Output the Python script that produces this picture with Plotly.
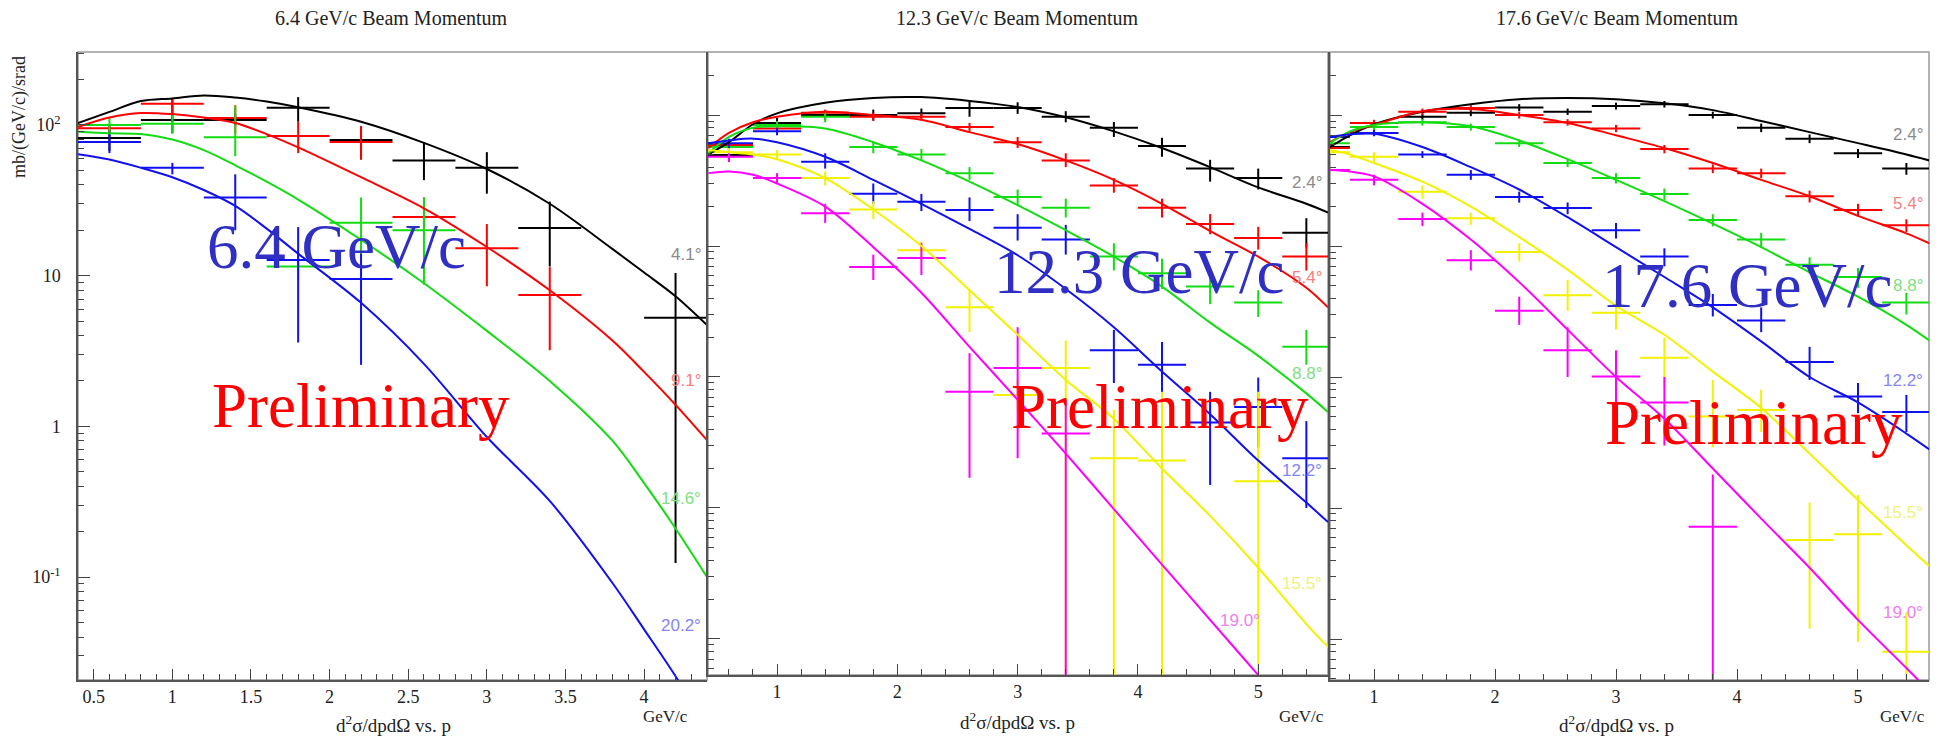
import plotly.graph_objects as go

W, H = 1948, 738
BIN_HALF = 0.2

# ---------------- Panel 1 : 6.4 GeV/c ----------------
P1_BLACK_X = [0.6, 1.0, 1.4, 1.8, 2.2, 2.6, 3.0, 3.4, 4.2]
P1_BLACK_Y = [82, 108, 108, 130, 79.5, 58, 52, 20.7, 5.25]
P1_BLACK_HI = [100, 147, 118, 153, 98, 76, 66, 31, 10.4]
P1_BLACK_LO = [67, 88, 99, 105, 59, 43, 35, 11.5, 0.124]

P1_RED_X = [0.6, 1.0, 1.4, 1.8, 2.2, 2.6, 3.0, 3.4]
P1_RED_Y = [95, 138, 111, 84.5, 77, 24.5, 15.2, 7.45]
P1_RED_HI = [100, 151, 135, 105, 98, 33, 22, 11.4]
P1_RED_LO = [90, 120, 88, 65, 59, 19, 8.5, 3.2]

P1_GREEN_X = [0.6, 1.0, 1.4, 1.8, 2.2, 2.6]
P1_GREEN_Y = [100, 102, 83, 11.5, 22.4, 20]
P1_GREEN_HI = [111, 116, 134, 14, 33, 33]
P1_GREEN_LO = [90, 88, 62, 9.3, 13.3, 8.7]

P1_BLUE_X = [0.6, 1.0, 1.4, 1.8, 2.2]
P1_BLUE_Y = [77, 52, 33, 12.7, 9.5]
P1_BLUE_HI = [90, 56, 47, 21, 14]
P1_BLUE_LO = [65, 47, 20, 3.6, 2.56]

P1_CURVE_X = [0.40, 0.6, 0.8, 1.0, 1.2, 1.4, 1.6, 1.8, 2.2, 2.6, 3.0, 3.4, 3.8, 4.0, 4.2, 4.4]
P1_CURVE_BLACK = [103, 122, 144, 150, 157, 152, 143, 131, 105, 76, 51, 30, 15, 10.5, 7.3, 4.7]
P1_CURVE_RED = [97, 112, 120, 118, 112, 103, 87, 71, 45, 28, 15.5, 8, 3.7, 2.3, 1.39, 0.81]
P1_CURVE_GREEN = [90, 88, 87, 80, 68, 54, 42, 32, 17.3, 8.9, 4.3, 2.0, 0.8, 0.42, 0.21, 0.1]
P1_CURVE_BLUE = [64, 59, 52, 45, 37, 29, 20.5, 14, 6.6, 2.6, 0.85, 0.32, 0.091, 0.045, 0.022, 0.010]

# ---------------- Panel 2 : 12.3 GeV/c ----------------
P2_BINS = [0.6, 1.0, 1.4, 1.8, 2.2, 2.6, 3.0, 3.4, 3.8, 4.2, 4.6, 5.0, 5.4]
P2_BLACK_Y = [49.5, 87, 100, 100, 103, 113, 113, 97, 80, 58, 39, 33, 12.6]
P2_BLACK_HI = [56, 95, 108, 110, 112, 130, 125, 107, 88.5, 67, 45.5, 39, 16.3]
P2_BLACK_LO = [44, 79, 92, 91, 95, 97, 102, 88, 68, 48, 31, 27, 9.7]

P2_RED_Y = [59, 79, 104, 97, 97, 81, 62, 45, 29, 19.6, 14.7, 11.5, 8.3]
P2_RED_HI = [64, 86, 110, 104, 103, 87, 68, 51, 33, 23, 17.5, 14, 10.5]
P2_RED_LO = [54, 73, 98, 90, 91, 75, 56, 40, 25.5, 16.5, 12.3, 9.4, 6.5]

P2_GREEN_Y = [57, 84, 97, 57, 50, 36, 23.7, 19.6, 8.3, 6.2, 4.9, 3.7, 1.7]
P2_GREEN_HI = [62, 90, 106, 63, 55, 40, 27, 23, 10.5, 8, 6.5, 4.6, 2.29]
P2_GREEN_LO = [52, 78, 88, 51, 45, 32, 20.5, 16.5, 6.5, 4.7, 3.6, 2.87, 1.24]

P2_BLUE_Y = [61, 75, 44, 25, 21.8, 18.8, 13.8, 11.2, 1.6, 1.24, 0.45, 0.59, 0.24]
P2_BLUE_HI = [66, 80, 51, 30, 25, 23.5, 17.5, 14.5, 2.29, 1.85, 0.77, 0.99, 0.46]
P2_BLUE_LO = [56, 70, 39, 21, 18.5, 15.5, 11, 8.6, 0.9, 0.63, 0.15, 0.29, 0.1]

P2_YELLOW_X = [0.6, 1.0, 1.4, 1.8, 2.2, 2.6, 3.0, 3.4, 3.8, 4.2, 5.0]
P2_YELLOW_Y = [52, 50, 33, 19, 9.3, 3.4, 0.73, 1.17, 0.24, 0.23, 0.16]
P2_YELLOW_HI = [56, 54, 37, 22, 10.8, 4.6, 0.95, 1.9, 0.56, 0.77, 0.77]
P2_YELLOW_LO = [48, 46, 29, 16, 7.8, 2.2, 0.55, 0.001, 0.001, 0.001, 0.001]

P2_MAGENTA_X = [0.6, 1.0, 1.4, 1.8, 2.2, 2.6, 3.0, 3.4]
P2_MAGENTA_Y = [48, 33, 17.8, 6.9, 8.1, 0.77, 1.17, 0.37]
P2_MAGENTA_HI = [52, 36, 21, 8.6, 10.5, 1.52, 2.4, 0.67]
P2_MAGENTA_LO = [44, 30, 15, 5.5, 6.0, 0.17, 0.24, 0.001]

P2_CURVE_X = [0.43, 0.6, 0.8, 1.0, 1.4, 1.8, 2.2, 2.6, 3.0, 3.4, 3.8, 4.2, 4.6, 5.0, 5.4, 5.58]
P2_CURVE_BLACK = [50, 62, 85, 103, 124, 135, 137, 128, 115, 96, 75, 56, 40, 28, 21, 18]
P2_CURVE_RED = [56, 73, 88, 97, 106, 100, 92, 74, 60, 45, 32, 21, 13, 8.3, 4.8, 3.4]
P2_CURVE_GREEN = [51, 68, 80, 82, 79, 62, 45, 31, 20.5, 13.2, 8.3, 4.9, 2.6, 1.45, 0.75, 0.54]
P2_CURVE_BLUE = [61, 64, 66, 62, 48, 32, 21, 13.5, 8.5, 4.7, 2.4, 1.1, 0.52, 0.23, 0.11, 0.078]
P2_CURVE_YELLOW = [54, 52, 50, 46, 33, 19, 10, 4.6, 2.1, 0.95, 0.48, 0.2, 0.087, 0.035, 0.013, 0.0087]
P2_CURVE_MAGENTA = [36, 37, 35, 30, 20, 9.8, 4.4, 1.7, 0.67, 0.26, 0.098, 0.037, 0.014, 0.0053, 0.002, 0.0012]

# ---------------- Panel 3 : 17.6 GeV/c ----------------
P3_BINS = [0.6, 1.0, 1.4, 1.8, 2.2, 2.6, 3.0, 3.4, 3.8, 4.2, 4.6, 5.0, 5.4]
P3_BLACK_Y = [57, 73, 97, 104, 114, 106, 117, 121, 100, 80, 66, 51, 39]
P3_BLACK_HI = [60, 77, 102, 110, 121, 112, 124, 128, 106, 86, 71, 55, 43]
P3_BLACK_LO = [54, 69, 92, 98, 107, 100, 110, 114, 94, 74, 61, 47, 35]

P3_RED_Y = [56, 87, 106, 113, 100, 88, 79, 55, 39, 36, 24, 18.8, 14.4]
P3_RED_HI = [59, 92, 112, 119, 106, 93, 84, 59, 42, 39, 26.5, 21, 16]
P3_RED_LO = [53, 82, 100, 107, 94, 83, 74, 51, 36, 33, 21.5, 16.8, 12.8]

P3_GREEN_Y = [61, 81, 88, 81, 61, 43, 33, 25, 15.8, 11.2, 7.2, 5.8, 3.7]
P3_GREEN_HI = [64, 86, 93, 86, 65, 46, 36, 27.5, 17.5, 12.6, 8.2, 6.8, 4.4]
P3_GREEN_LO = [58, 76, 83, 76, 57, 40, 30, 22.5, 14.1, 9.8, 6.2, 4.8, 3.0]

P3_BLUE_Y = [68, 73, 50, 35, 23.7, 19.5, 13.2, 8.3, 3.55, 2.7, 1.3, 0.71, 0.54]
P3_BLUE_HI = [72, 77, 53, 38, 26, 21.5, 15, 9.6, 4.3, 3.4, 1.7, 0.9, 0.73]
P3_BLUE_LO = [64, 69, 47, 32, 21.4, 17.5, 11.4, 7.0, 2.9, 2.2, 0.95, 0.53, 0.38]

P3_YELLOW_Y = [52, 48, 26, 16.3, 9.0, 4.2, 3.1, 1.4, 0.50, 0.56, 0.057, 0.063, 0.008]
P3_YELLOW_HI = [56, 52, 29, 18, 10.5, 5.5, 3.9, 2.0, 0.95, 0.8, 0.11, 0.126, 0.016]
P3_YELLOW_LO = [48, 44, 23, 14.5, 7.6, 3.2, 2.3, 0.85, 0.29, 0.38, 0.012, 0.0095, 0.001]

P3_MAGENTA_X = [0.6, 1.0, 1.4, 1.8, 2.2, 2.6, 3.0, 3.4, 3.8]
P3_MAGENTA_Y = [38, 32, 16.1, 7.8, 3.2, 1.6, 1.01, 0.64, 0.072]
P3_MAGENTA_HI = [41, 35, 18, 9.3, 4.1, 2.4, 1.6, 1.0, 0.18]
P3_MAGENTA_LO = [35, 29, 14.2, 6.5, 2.5, 1.0, 0.53, 0.30, 0.001]

P3_CURVE_X = [0.636, 0.8, 1.0, 1.4, 1.8, 2.2, 2.6, 3.0, 3.4, 3.8, 4.2, 4.6, 5.0, 5.4, 5.59]
P3_CURVE_BLACK = [57, 70, 85, 106, 121, 132, 135, 132, 123, 109, 90, 74, 61, 50, 45]
P3_CURVE_RED = [62, 74, 84, 107, 111, 100, 87, 70, 56, 43, 32, 24, 17, 12.5, 10.5]
P3_CURVE_GREEN = [61, 75, 84, 88, 82, 64, 46, 32, 22, 14.8, 9.8, 6.3, 4.1, 2.5, 1.9]
P3_CURVE_BLUE = [68, 71, 72, 57, 40, 27, 16.6, 9.8, 5.8, 3.4, 1.87, 1.0, 0.64, 0.37, 0.28]
P3_CURVE_YELLOW = [54, 50, 43, 31, 20, 11.7, 6.6, 3.5, 2.1, 1.1, 0.58, 0.26, 0.115, 0.052, 0.036]
P3_CURVE_MAGENTA = [38, 37, 34, 21, 11.2, 5.3, 2.3, 1.0, 0.48, 0.2, 0.083, 0.035, 0.014, 0.006, 0.004]

# ---------------- labels ----------------
PANEL_TITLES = ["6.4 GeV/c Beam Momentum", "12.3 GeV/c Beam Momentum", "17.6 GeV/c Beam Momentum"]
BIG_LABELS = ["6.4 GeV/c", "12.3 GeV/c", "17.6 GeV/c"]
P1_XTICKS = [0.5, 1, 1.5, 2, 2.5, 3, 3.5, 4]
P1_XTICKTEXT = ["0.5", "1", "1.5", "2", "2.5", "3", "3.5", "4"]
P23_XTICKS = [1, 2, 3, 4, 5]
P23_XTICKTEXT = ["1", "2", "3", "4", "5"]
P1_YTICKS = [0.1, 1, 10, 100]
P1_YTICKTEXT = ["10<sup>-1</sup>", "1", "10", "10<sup>2</sup>"]
P23_YTICKS = [0.01, 0.1, 1, 10, 100]
P1_ANGLES = ["4.1°", "9.1°", "14.6°", "20.2°"]
P23_ANGLES = ["2.4°", "5.4°", "8.8°", "12.2°", "15.5°", "19.0°"]

C = dict(black="#000000", red="#ff0000", green="#12dc12", blue="#1010f0",
         yellow="#f2f200", magenta="#ff00ff")
LC = dict(black="#8a8a8a", red="#f58080", green="#7fe07f", blue="#8585f5",
          yellow="#f0f07a", magenta="#f080f0")

SERIF = "Liberation Serif, Times New Roman, serif"
SANS = "Liberation Sans, Arial, sans-serif"

fig = go.Figure()


def add_data(ax, x, y, hi, lo, color):
    fig.add_trace(go.Scatter(
        x=x, y=y, mode="markers", marker=dict(size=1, color=color),
        error_x=dict(type="data", array=[BIN_HALF] * len(x), color=color, thickness=2, width=0),
        error_y=dict(type="data", symmetric=False,
                     array=[h - v for h, v in zip(hi, y)],
                     arrayminus=[v - l for v, l in zip(y, lo)],
                     color=color, thickness=2, width=0),
        xaxis="x" + ax, yaxis="y" + ax, showlegend=False, hoverinfo="skip", cliponaxis=True))


def add_curve(ax, x, y, color):
    fig.add_trace(go.Scatter(
        x=x, y=y, mode="lines", line=dict(color=color, width=2, shape="spline", smoothing=0.9),
        xaxis="x" + ax, yaxis="y" + ax, showlegend=False, hoverinfo="skip"))


# panel 1
add_data("", P1_BLACK_X, P1_BLACK_Y, P1_BLACK_HI, P1_BLACK_LO, C["black"])
add_data("", P1_RED_X, P1_RED_Y, P1_RED_HI, P1_RED_LO, C["red"])
add_data("", P1_GREEN_X, P1_GREEN_Y, P1_GREEN_HI, P1_GREEN_LO, C["green"])
add_data("", P1_BLUE_X, P1_BLUE_Y, P1_BLUE_HI, P1_BLUE_LO, C["blue"])
add_curve("", P1_CURVE_X, P1_CURVE_BLACK, C["black"])
add_curve("", P1_CURVE_X, P1_CURVE_RED, C["red"])
add_curve("", P1_CURVE_X, P1_CURVE_GREEN, C["green"])
add_curve("", P1_CURVE_X, P1_CURVE_BLUE, C["blue"])

# panel 2
add_data("2", P2_BINS, P2_BLACK_Y, P2_BLACK_HI, P2_BLACK_LO, C["black"])
add_data("2", P2_BINS, P2_RED_Y, P2_RED_HI, P2_RED_LO, C["red"])
add_data("2", P2_BINS, P2_GREEN_Y, P2_GREEN_HI, P2_GREEN_LO, C["green"])
add_data("2", P2_BINS, P2_BLUE_Y, P2_BLUE_HI, P2_BLUE_LO, C["blue"])
add_data("2", P2_YELLOW_X, P2_YELLOW_Y, P2_YELLOW_HI, P2_YELLOW_LO, C["yellow"])
add_data("2", P2_MAGENTA_X, P2_MAGENTA_Y, P2_MAGENTA_HI, P2_MAGENTA_LO, C["magenta"])
add_curve("2", P2_CURVE_X, P2_CURVE_BLACK, C["black"])
add_curve("2", P2_CURVE_X, P2_CURVE_RED, C["red"])
add_curve("2", P2_CURVE_X, P2_CURVE_GREEN, C["green"])
add_curve("2", P2_CURVE_X, P2_CURVE_BLUE, C["blue"])
add_curve("2", P2_CURVE_X, P2_CURVE_YELLOW, C["yellow"])
add_curve("2", P2_CURVE_X, P2_CURVE_MAGENTA, C["magenta"])

# panel 3
add_data("3", P3_BINS, P3_BLACK_Y, P3_BLACK_HI, P3_BLACK_LO, C["black"])
add_data("3", P3_BINS, P3_RED_Y, P3_RED_HI, P3_RED_LO, C["red"])
add_data("3", P3_BINS, P3_GREEN_Y, P3_GREEN_HI, P3_GREEN_LO, C["green"])
add_data("3", P3_BINS, P3_BLUE_Y, P3_BLUE_HI, P3_BLUE_LO, C["blue"])
add_data("3", P3_BINS, P3_YELLOW_Y, P3_YELLOW_HI, P3_YELLOW_LO, C["yellow"])
add_data("3", P3_MAGENTA_X, P3_MAGENTA_Y, P3_MAGENTA_HI, P3_MAGENTA_LO, C["magenta"])
add_curve("3", P3_CURVE_X, P3_CURVE_BLACK, C["black"])
add_curve("3", P3_CURVE_X, P3_CURVE_RED, C["red"])
add_curve("3", P3_CURVE_X, P3_CURVE_GREEN, C["green"])
add_curve("3", P3_CURVE_X, P3_CURVE_BLUE, C["blue"])
add_curve("3", P3_CURVE_X, P3_CURVE_YELLOW, C["yellow"])
add_curve("3", P3_CURVE_X, P3_CURVE_MAGENTA, C["magenta"])

# ---------------- axes ----------------
Y_MINOR = [m * 10 ** e for e in range(-4, 3) for m in range(2, 10)]
PANELS = [
    dict(key="", xd=(78, 707), yd=(52, 680), xr=[0.40, 4.40], yr=[-1.683, 2.484],
         xt=P1_XTICKS, xtt=P1_XTICKTEXT, minor=0.1, ylab=True),
    dict(key="2", xd=(708, 1328), yd=(52, 675), xr=[0.426, 5.58], yr=[-2.275, 2.481],
         xt=P23_XTICKS, xtt=P23_XTICKTEXT, minor=0.2, ylab=False),
    dict(key="3", xd=(1330, 1929), yd=(52, 680), xr=[0.636, 5.587], yr=[-2.313, 2.481],
         xt=P23_XTICKS, xtt=P23_XTICKTEXT, minor=0.2, ylab=False),
]

layout = dict(width=W, height=H, margin=dict(l=0, r=0, t=0, b=0),
              paper_bgcolor="white", plot_bgcolor="white", showlegend=False)
shapes = []
for p in PANELS:
    k = p["key"]
    xa = dict(domain=[p["xd"][0] / W, p["xd"][1] / W], range=p["xr"], anchor="y" + k,
              tickmode="array", tickvals=p["xt"], ticktext=p["xtt"],
              ticks="inside", ticklen=11, tickwidth=1, tickcolor="#444",
              showline=True, linecolor="#555", linewidth=1.5, showgrid=False, zeroline=False,
              ticklabelstandoff=0,
              tickfont=dict(family=SERIF, size=18, color="#222"),
              minor=dict(ticks="inside", ticklen=6, tickwidth=1, tickcolor="#444",
                         tickmode="linear", tick0=0, dtick=p["minor"], showgrid=False))
    ya = dict(domain=[1 - p["yd"][1] / H, 1 - p["yd"][0] / H], type="log", range=p["yr"],
              anchor="x" + k, tickmode="array",
              tickvals=P1_YTICKS if p["ylab"] else P23_YTICKS,
              showticklabels=p["ylab"], ticklabelstandoff=12,
              ticks="inside", ticklen=12, tickwidth=1, tickcolor="#444",
              showline=True, linecolor="#555", linewidth=1.5, showgrid=False, zeroline=False,
              tickfont=dict(family=SERIF, size=18, color="#222"),
              minor=dict(ticks="inside", ticklen=6, tickwidth=1, tickcolor="#444",
                         tickmode="array", tickvals=Y_MINOR, showgrid=False))
    if p["ylab"]:
        ya["ticktext"] = P1_YTICKTEXT
    layout["xaxis" + k] = xa
    layout["yaxis" + k] = ya
    shapes.append(dict(type="rect", xref="paper", yref="paper",
                       x0=p["xd"][0] / W, x1=p["xd"][1] / W,
                       y0=1 - p["yd"][1] / H, y1=1 - p["yd"][0] / H,
                       line=dict(color="#9a9a9a", width=1.5), layer="below"))
layout["shapes"] = shapes

# ---------------- annotations ----------------
ann = []


def txt(text, x, y, size, color, family=SERIF, xanchor="center", yanchor="middle", angle=0):
    ann.append(dict(text=text, x=x / W, y=1 - y / H, xref="paper", yref="paper",
                    showarrow=False, xanchor=xanchor, yanchor=yanchor, textangle=angle,
                    font=dict(family=family, size=size, color=color)))


for t, cx in zip(PANEL_TITLES, [391, 1018, 1617]):
    txt(t, cx, 18, 20, "#222")
txt("mb/(GeV/c)/srad", 19, 117, 18, "#222", angle=-90)
for cx, cy in zip([393, 1018, 1616], [724, 721, 724]):
    txt("d<sup>2</sup>σ/dpdΩ vs. p", cx, cy, 19, "#222")
for rx in [690, 1326, 1927]:
    txt("GeV/c", rx, 716, 17, "#222", xanchor="right")

# angle labels
for t, cy, col in zip(P1_ANGLES, [255, 380, 498, 625], ["black", "red", "green", "blue"]):
    txt(t, 703, cy, 17, LC[col], family=SANS, xanchor="right")
P2_ANGLE_POS = [(1324, 183), (1324, 277), (1324, 373), (1324, 470), (1324, 583), (1262, 620)]
P3_ANGLE_POS = [(1925, 135), (1925, 203), (1925, 285), (1925, 380), (1925, 512), (1925, 612)]
for pos in (P2_ANGLE_POS, P3_ANGLE_POS):
    for t, (rx, cy), col in zip(P23_ANGLES, pos, ["black", "red", "green", "blue", "yellow", "magenta"]):
        txt(t, rx, cy, 17, LC[col], family=SANS, xanchor="right")

# big overlay labels
for t, (cx, cy) in zip(BIG_LABELS, [(336, 247), (1139, 272), (1747, 286)]):
    txt(t, cx, cy, 63, "#2f2fc4")
for cx, cy in [(361, 406), (1160, 407), (1754, 423)]:
    txt("Preliminary", cx, cy, 63, "#ff0000")

layout["annotations"] = ann
fig.update_layout(**layout)
fig.write_html("out.html")
